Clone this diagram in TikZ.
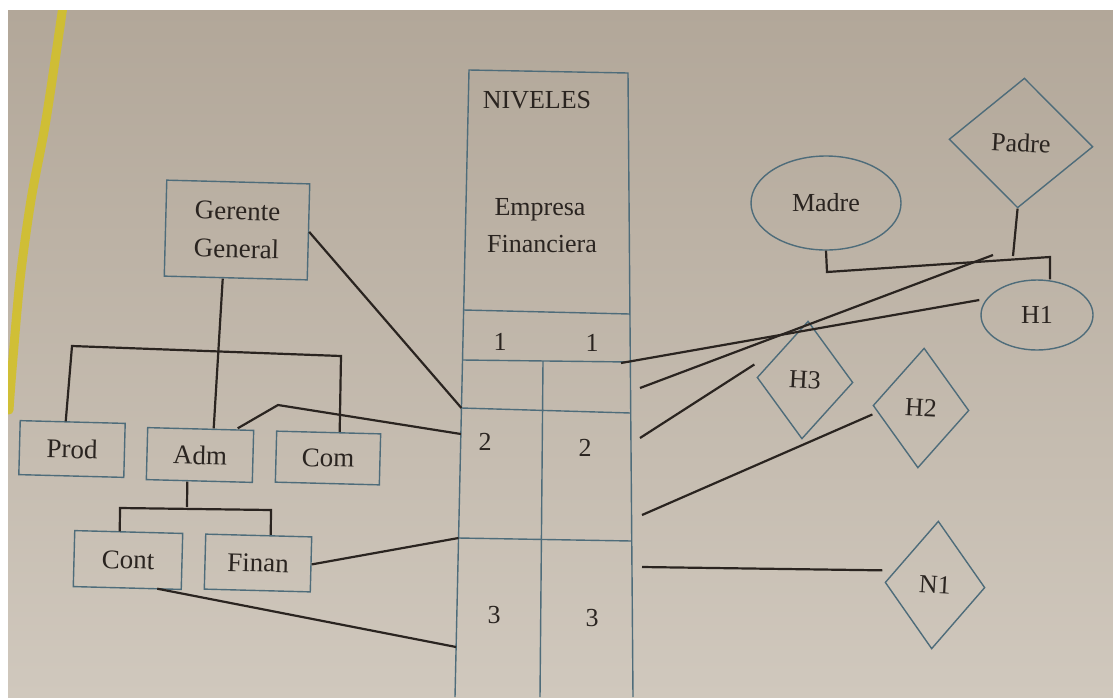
\documentclass[tikz,border=0pt]{standalone}
\usepackage{fontspec}
\setmainfont{Liberation Serif}
\usetikzlibrary{shapes.geometric,calc}
\definecolor{papertop}{HTML}{B2A799}
\definecolor{paperbot}{HTML}{D0C8BD}
\definecolor{boxline}{HTML}{4E6C7A}
\definecolor{ink}{HTML}{2A2420}
\definecolor{hilite}{HTML}{D2C02A}
\begin{document}
\begin{tikzpicture}[x=1pt,y=-1pt,
  txt/.style={text=ink,font=\fontsize{26}{37}\selectfont},
  bigtxt/.style={text=ink,font=\fontsize{27}{38}\selectfont},
  frame/.style={draw=boxline,line width=1.4pt},
  orgbox/.style={frame,rectangle,inner sep=0pt,bigtxt,rotate=-1.5},
  oval/.style={frame,ellipse,inner sep=0pt,txt},
  rhomb/.style={frame,diamond,inner sep=0pt,txt,rotate=-3},
  conn/.style={draw=ink,line width=2.2pt}]
\useasboundingbox (0,0) rectangle (1113,697);
% paper
\fill[white] (0,0) rectangle (1113,697);
\shade[top color=papertop,bottom color=paperbot] (8,10) rectangle (1113,697);
\begin{scope}
\clip (8,10) rectangle (1113,697);
\draw[hilite,line width=9pt,line cap=round,opacity=0.9] plot[smooth] coordinates {(63,6) (46,120) (31,200) (20,280) (12,370) (9,410)};
\end{scope}

% ---------- central column ----------
\coordinate (colTL) at (469,70);
\coordinate (colTR) at (628,73);
\coordinate (colBL) at (455,697);
\coordinate (colBR) at (633,697);
\coordinate (h1L) at (463.6,310); \coordinate (h1R) at (629.9,314);
\coordinate (h2L) at (462.5,360); \coordinate (h2R) at (630.3,362);
\coordinate (h3L) at (461.4,408); \coordinate (h3R) at (630.7,413);
\coordinate (h4L) at (458.5,538); \coordinate (h4R) at (631.7,541);
\coordinate (divT) at (543,361);
\coordinate (divB) at (540,697);
\draw[frame] (colBL) -- (colTL) -- (colTR) -- (colBR);
\draw[frame] (h1L) -- (h1R);
\draw[frame] (h2L) -- (h2R);
\draw[frame] (h3L) -- (h3R);
\draw[frame] (h4L) -- (h4R);
\draw[frame] (divT) -- (divB);

\node[txt,anchor=base] (niv) at (537,108) {NIVELES};
\node[txt,anchor=base] (emp1) at (540,215) {Empresa};
\node[txt,anchor=base] (emp2) at (542,252) {Financiera};
\node[txt] (oneA) at (500,342) {1};
\node[txt] (oneB) at (592,343) {1};
\node[txt] (twoA) at (485,442) {2};
\node[txt] (twoB) at (585,448) {2};
\node[txt] (thrA) at (494,615) {3};
\node[txt] (thrB) at (592,618) {3};

% ---------- left organisation chart ----------
\node[orgbox,minimum width=143pt,minimum height=96pt,align=center] (gg) at (237,230) {Gerente\\General};
\node[orgbox,minimum width=105pt,minimum height=54pt] (prod) at (72,449) {Prod};
\node[orgbox,minimum width=106pt,minimum height=52pt] (adm) at (200,455) {Adm};
\node[orgbox,minimum width=104pt,minimum height=51pt] (com) at (328,458) {Com};
\node[orgbox,minimum width=108pt,minimum height=56pt] (cont) at (128,560) {Cont};
\node[orgbox,minimum width=106pt,minimum height=55pt] (finan) at (258,563) {Finan};

\coordinate (barL) at (72,346);
\coordinate (barR) at (341,356);
\coordinate (admK) at (278,405);
\coordinate (bar2L) at (120,508);
\coordinate (bar2M) at (187,507);
\coordinate (bar2R) at (271,510);
\coordinate (c2adm) at (460.9,434);
\coordinate (c3cont) at (456.1,647);

\draw[conn] (gg.east) -- (h3L);
\draw[conn] ($(gg.south)+(-13,0)$) -- ($(adm.north)+(13,0)$);
\draw[conn] ($(prod.north)+(-7,0)$) -- (barL) -- (barR) -- ($(com.north)+(11,0)$);
\draw[conn] ($(adm.north)+(37,0)$) -- (admK) -- (c2adm);
\draw[conn] ($(adm.south)+(-12,0)$) -- (bar2M);
\draw[conn] ($(cont.north)+(-9,0)$) -- (bar2L) -- (bar2R) -- ($(finan.north)+(12,0)$);
\draw[conn] (finan.east) -- (h4L);
\draw[conn] ($(cont.south)+(30,0)$) -- (c3cont);

% ---------- right family diagram ----------
\node[oval,minimum width=150pt,minimum height=94pt] (madre) at (826,203) {Madre};
\node[rhomb,minimum width=144pt,minimum height=130pt] (padre) at (1021,143) {Padre};
\node[oval,minimum width=112pt,minimum height=70pt] (hone) at (1037,315) {H1};
\node[rhomb,minimum width=96pt,minimum height=118pt] (hthree) at (805,380) {H3};
\node[rhomb,minimum width=96pt,minimum height=120pt] (htwo) at (921,408) {H2};
\node[rhomb,minimum width=100pt,minimum height=128pt] (none) at (935,585) {N1};

\coordinate (famL) at (827,272);
\coordinate (famR) at (1050,257);
\coordinate (famP) at (1013,256);
\coordinate (famEnd) at (993,255);
\coordinate (c1r) at (621,363);
\coordinate (r1) at (640,388);
\coordinate (r2) at (640,438);
\coordinate (r3) at (642,515);
\coordinate (r4) at (642,567);

\draw[conn] (madre.south) -- (famL) -- (famR) -- (hone.north -| famR);
\draw[conn] (padre.south) -- (famP);
\draw[conn] (c1r) -- ($(hone.west)+(-1,-15)$);
\draw[conn] (r1) -- (famEnd);
\draw[conn] (r2) -- ($(hthree.west)+(-2,-13)$);
\draw[conn] (r3) -- ($(htwo.west)+(0,9)$);
\draw[conn] (r4) -- ($(none.west)+(-2,-12)$);
\end{tikzpicture}
\end{document}
